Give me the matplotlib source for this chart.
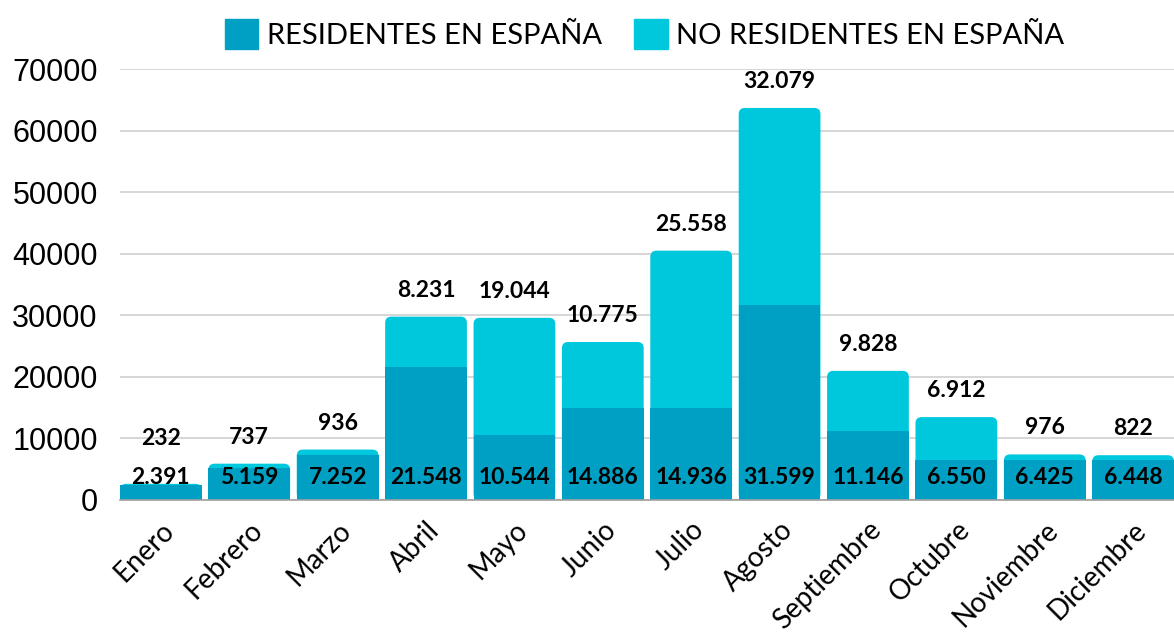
import matplotlib
matplotlib.use("Agg")
import matplotlib.pyplot as plt
from matplotlib.patches import Patch, FancyBboxPatch

months = ["Enero", "Febrero", "Marzo", "Abril", "Mayo", "Junio", "Julio",
          "Agosto", "Septiembre", "Octubre", "Noviembre", "Diciembre"]
residentes = [2391, 5159, 7252, 21548, 10544, 14886, 14936, 31599, 11146, 6550, 6425, 6448]
no_residentes = [232, 737, 936, 8231, 19044, 10775, 25558, 32079, 9828, 6912, 976, 822]
yticks = [0, 10000, 20000, 30000, 40000, 50000, 60000, 70000]

c_res = "#00A0C4"
c_nores = "#00C8DC"

def fmt(v):
    return f"{v:,}".replace(",", ".")

fig = plt.figure(figsize=(11.74, 6.32), dpi=100)
ax = fig.add_axes([0.1022, 0.2089, 0.8978, 0.6819])

x = list(range(len(months)))
w = 0.925
totals = [r + n for r, n in zip(residentes, no_residentes)]

ax.set_xlim(-0.4625, 11.4625)
ax.set_ylim(0, 70000)

# light (total) bars with rounded top corners
bars = ax.bar(x, totals, width=w, color=c_nores, zorder=2)
aspect = (70000 / 431.0) / (11.925 / 1054.0)
for p in list(bars):
    fb = FancyBboxPatch((p.get_x(), p.get_y()), p.get_width(), p.get_height(),
                        boxstyle="round,pad=0,rounding_size=0.07",
                        mutation_aspect=aspect, facecolor=c_nores,
                        edgecolor="none", zorder=2)
    ax.add_patch(fb)
    p.remove()
# dark (residents) bars on top
ax.bar(x, residentes, width=w, color=c_res, zorder=2.5)

ax.set_yticks(yticks)
ax.set_yticklabels([str(t) for t in yticks], fontfamily="Liberation Sans", fontsize=22)
ax.tick_params(axis="y", length=0, pad=16)
ax.grid(axis="y", color="#d0d0d0", linewidth=1.2, zorder=0)
ax.set_axisbelow(True)
for s in ["top", "right", "left"]:
    ax.spines[s].set_visible(False)
ax.spines["bottom"].set_color("#a0a0a0")
ax.spines["bottom"].set_linewidth(1.2)
ax.spines["bottom"].set_zorder(3)

ax.set_xticks(x)
ax.set_xticklabels(months, rotation=45, ha="right", rotation_mode="anchor",
                   fontfamily="Lato", fontsize=20)
ax.tick_params(axis="x", length=0, pad=12)

for i in x:
    ax.text(i, 3600, fmt(residentes[i]), ha="center", va="center",
            fontfamily="Lato", fontweight="bold", fontsize=16.5, zorder=4)
    ytop = max(totals[i] + 4300, 10000)
    ax.text(i, ytop, fmt(no_residentes[i]), ha="center", va="center",
            fontfamily="Lato", fontweight="bold", fontsize=16.5, zorder=4)

handles = [Patch(color=c_res, label="RESIDENTES EN ESPAÑA"),
           Patch(color=c_nores, label="NO RESIDENTES EN ESPAÑA")]
fig.legend(handles=handles, loc="center", bbox_to_anchor=(0.549, 0.946), ncol=2,
           frameon=False, prop={"family": "Lato", "size": 21},
           handlelength=1.15, handleheight=1.2, handletextpad=0.3, columnspacing=1.1)

fig.savefig("out.png", dpi=100)
